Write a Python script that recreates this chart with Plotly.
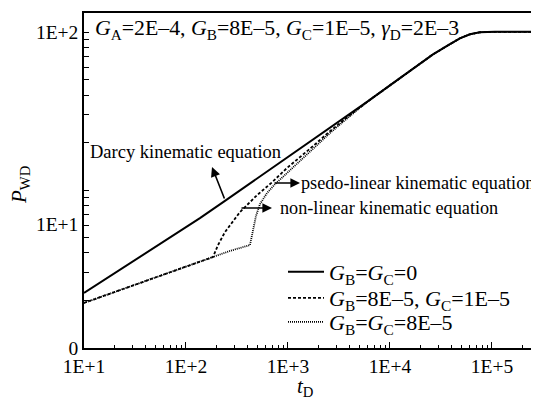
import plotly.graph_objects as go

# ---- data ----
t_darcy = [10, 22.5, 55.6, 137, 241, 531, 1312, 2580, 4055, 5957, 12530, 26400,
           38700, 48500, 60800, 76300, 107000, 264000]
p_darcy = [2.23, 3.13, 4.56, 6.65, 8.55, 12.2, 18.2, 24.6, 30.3, 36.2, 51.2, 72.4,
           84.0, 91.6, 97.1, 100.0, 100.7, 100.7]

t_pseudo = [10, 22.5, 55.6, 137, 184, 206, 241, 338, 497, 697, 977, 1643, 2580, 4055,
            5957, 12530, 26400, 38700, 48500, 60800, 76300, 107000, 264000]
p_pseudo = [1.93, 2.32, 2.86, 3.52, 3.77, 4.49, 5.42, 7.26, 9.29, 11.2, 13.8, 18.3, 23.6, 29.9,
            36.2, 51.2, 72.4, 84.0, 91.6, 97.1, 100.0, 100.7, 100.7]

t_nonlin = [10, 22.5, 55.6, 137, 184, 270, 424, 454, 485, 531, 622, 746, 1047, 1643, 2580,
            4055, 5957, 12530, 26400, 38700, 48500, 60800, 76300, 107000, 264000]
p_nonlin = [1.93, 2.32, 2.86, 3.52, 3.77, 4.12, 4.49, 5.58, 6.84, 8.15, 9.57, 10.9, 13.4, 17.4, 23.0,
            29.5, 36.2, 51.2, 72.4, 84.0, 91.6, 97.1, 100.0, 100.7, 100.7]

x_major = [1e1, 1e2, 1e3, 1e4, 1e5]
x_major_text = ["1E+1", "1E+2", "1E+3", "1E+4", "1E+5"]
x_minor = [m * 10 ** e for e in range(1, 5) for m in range(2, 10)] + [2e5]

y_label_vals = [1, 6.1, 100]
y_label_text = ["0", "1E+1", "1E+2"]
y_minor = [m for m in range(2, 10)] + [m * 10 for m in range(1, 10)] + [100]

FONT = "Liberation Serif"

fig = go.Figure()
fig.add_trace(go.Scatter(x=t_darcy, y=p_darcy, mode="lines", legend="legend",
                         line=dict(color="black", width=2),
                         name="<i>G</i><sub>B</sub>=<i>G</i><sub>C</sub>=0"))
fig.add_trace(go.Scatter(x=t_pseudo, y=p_pseudo, mode="lines", legend="legend2",
                         line=dict(color="black", width=1.8, dash="3px,2px"),
                         name="<i>G</i><sub>B</sub>=8E–5, <i>G</i><sub>C</sub>=1E–5"))
fig.add_trace(go.Scatter(x=t_nonlin, y=p_nonlin, mode="lines", legend="legend3",
                         line=dict(color="black", width=1.8, dash="1px,1px"),
                         name="<i>G</i><sub>B</sub>=<i>G</i><sub>C</sub>=8E–5"))

# page body has an 8px margin, so the figure is shifted by 8px in the window
W, H = 531, 393
L, R, T, B = 76, 4, 5, 53
X0, X1, Y0, Y1 = 84, 535, 13, 348   # plot area in window pixels

def px(x):
    return (x - X0) / (X1 - X0)

def py(y):
    return (Y1 - y) / (Y1 - Y0)

ann = []
ann.append(dict(x=px(93), y=py(30), xref="paper", yref="paper", xanchor="left", yanchor="middle",
                text="<i>G</i><sub>A</sub>=2E–4, <i>G</i><sub>B</sub>=8E–5, <i>G</i><sub>C</sub>=1E–5, <i>γ</i><sub>D</sub>=2E–3",
                showarrow=False, font=dict(size=21.8, family=FONT, color="black")))
ann.append(dict(x=px(88), y=py(152), xref="paper", yref="paper", xanchor="left", yanchor="middle",
                text="Darcy kinematic equation", showarrow=False,
                font=dict(size=18.5, family=FONT, color="black")))
ann.append(dict(x=px(299), y=py(183), xref="paper", yref="paper", xanchor="left", yanchor="middle",
                text="psedo-linear kinematic equation", showarrow=False,
                font=dict(size=18.2, family=FONT, color="black")))
ann.append(dict(x=px(278), y=py(208), xref="paper", yref="paper", xanchor="left", yanchor="middle",
                text="non-linear kinematic equation", showarrow=False,
                font=dict(size=18.2, family=FONT, color="black")))
# arrows
for (hx, hy, tx, ty) in [(212, 167, 225, 200), (300, 183, 273, 183), (272, 208, 240, 208)]:
    ann.append(dict(x=px(hx), y=py(hy), xref="paper", yref="paper", ax=tx - hx, ay=ty - hy,
                    text="", showarrow=True, arrowhead=2, arrowsize=1.2, arrowwidth=1.6,
                    arrowcolor="black"))
# axis titles
ann.append(dict(x=px(20), y=py(185), xref="paper", yref="paper", xanchor="center", yanchor="middle",
                text="<i>P</i><sub>WD</sub>", textangle=-90, showarrow=False,
                font=dict(size=21, family=FONT, color="black")))
ann.append(dict(x=px(305), y=py(387), xref="paper", yref="paper", xanchor="center", yanchor="middle",
                text="<i>t</i><sub>D</sub>", showarrow=False,
                font=dict(size=21, family=FONT, color="black")))

leg_common = dict(xanchor="left", yanchor="middle", bgcolor="rgba(0,0,0,0)",
                  font=dict(size=22, family=FONT, color="black"), itemwidth=36)

fig.update_layout(
    width=W, height=H,
    margin=dict(l=L, r=R, t=T, b=B, autoexpand=False),
    paper_bgcolor="white", plot_bgcolor="white",
    font=dict(family=FONT, size=19.5, color="black"),
    showlegend=True,
    legend=dict(x=px(283), y=py(272), **leg_common),
    legend2=dict(x=px(283), y=py(298), **leg_common),
    legend3=dict(x=px(283), y=py(322), **leg_common),
    annotations=ann,
    xaxis=dict(type="log", range=[1, 5.422], showgrid=False, zeroline=False, automargin=False,
               showline=True, linecolor="black", linewidth=1.5, mirror=True,
               tickmode="array", tickvals=x_major, ticktext=x_major_text,
               ticks="inside", ticklen=6, tickwidth=1.2, tickcolor="black",
               tickfont=dict(size=19.5, family=FONT),
               minor=dict(tickmode="array", tickvals=x_minor, ticks="inside",
                          ticklen=3, tickwidth=1.2, tickcolor="black", showgrid=False)),
    yaxis=dict(type="log", range=[0, 2.122], showgrid=False, zeroline=False, automargin=False,
               showline=True, linecolor="black", linewidth=1.5, mirror=True,
               tickmode="array", tickvals=y_label_vals, ticktext=y_label_text,
               ticks="", tickfont=dict(size=19.5, family=FONT),
               minor=dict(tickmode="array", tickvals=y_minor, ticks="inside",
                          ticklen=5, tickwidth=1.2, tickcolor="black", showgrid=False)),
)

fig.write_html("out.html")
